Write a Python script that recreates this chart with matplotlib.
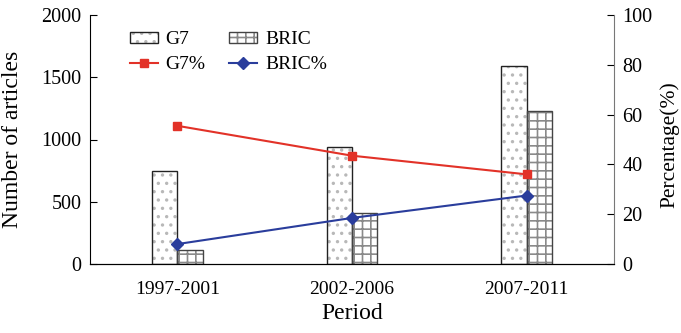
import matplotlib.pyplot as plt
import numpy as np

periods = ['1997-2001', '2002-2006', '2007-2011']
g7_articles = [745, 940, 1590]
bric_articles = [110, 410, 1225]
g7_pct = [55.5, 43.5, 36.0]
bric_pct = [8.0, 18.5, 27.5]

plt.rcParams['font.family'] = ['Liberation Serif']
plt.rcParams['hatch.linewidth'] = 1.2

fig = plt.figure(figsize=(6.81, 3.33), dpi=100)
ax = fig.add_axes([90/681, 1-264/333, (614-90)/681, (264-15)/333])
x = np.arange(len(periods))
w = 0.145

# hatched fill first (grey hatch), then dark outline on top
b1 = ax.bar(x - w/2, g7_articles, w, color='white', edgecolor='#b8b8b8', hatch='..', linewidth=0)
b2 = ax.bar(x + w/2, bric_articles, w, color='white', edgecolor='#8a8a8a', hatch='++', linewidth=0)
o1 = ax.bar(x - w/2, g7_articles, w, fill=False, edgecolor='#222222', linewidth=1.0)
o2 = ax.bar(x + w/2, bric_articles, w, fill=False, edgecolor='#444444', linewidth=1.0)

ax.set_xlim(-0.5, 2.5)
ax.set_ylim(0, 2000)
ax.set_yticks([0, 500, 1000, 1500, 2000])
ax.set_xticks(x)
ax.set_xticklabels(periods)
ax.tick_params(axis='x', length=0, pad=12, labelsize=14)
ax.tick_params(axis='y', direction='in', length=5, pad=6, labelsize=14.5)
ax.spines['top'].set_visible(False)
ax.spines['right'].set_visible(False)
ax.set_ylabel('Number of articles', fontsize=17)
ax.yaxis.set_label_coords(-0.128, 0.5)
ax.set_xlabel('Period', fontsize=17, labelpad=4)

ax2 = ax.twinx()
l1, = ax2.plot(x, g7_pct, color='#e23228', marker='s', markersize=6, linewidth=1.5)
l2, = ax2.plot(x, bric_pct, color='#2a3d9c', marker='D', markersize=6, linewidth=1.5)
ax2.set_ylim(0, 100)
ax2.set_yticks([0, 20, 40, 60, 80, 100])
ax2.tick_params(axis='y', direction='in', length=5, pad=6, labelsize=14.5)
ax2.spines['top'].set_visible(False)
ax2.spines['left'].set_visible(False)
ax2.spines['right'].set_color('#777777')
ax2.set_ylabel('Percentage(%)', fontsize=15.5)
ax2.yaxis.set_label_coords(1.088, 0.48)

ax2.legend([(b1[0], o1[0]), l1, (b2[0], o2[0]), l2], ['G7', 'G7%', 'BRIC', 'BRIC%'],
           ncol=2, frameon=False, loc='upper left', bbox_to_anchor=(0.061, 0.967),
           fontsize=14, handlelength=1.45, handleheight=0.5, handletextpad=0.4,
           columnspacing=1.2, labelspacing=0.4, borderaxespad=0)

fig.savefig('out.png', dpi=100)
